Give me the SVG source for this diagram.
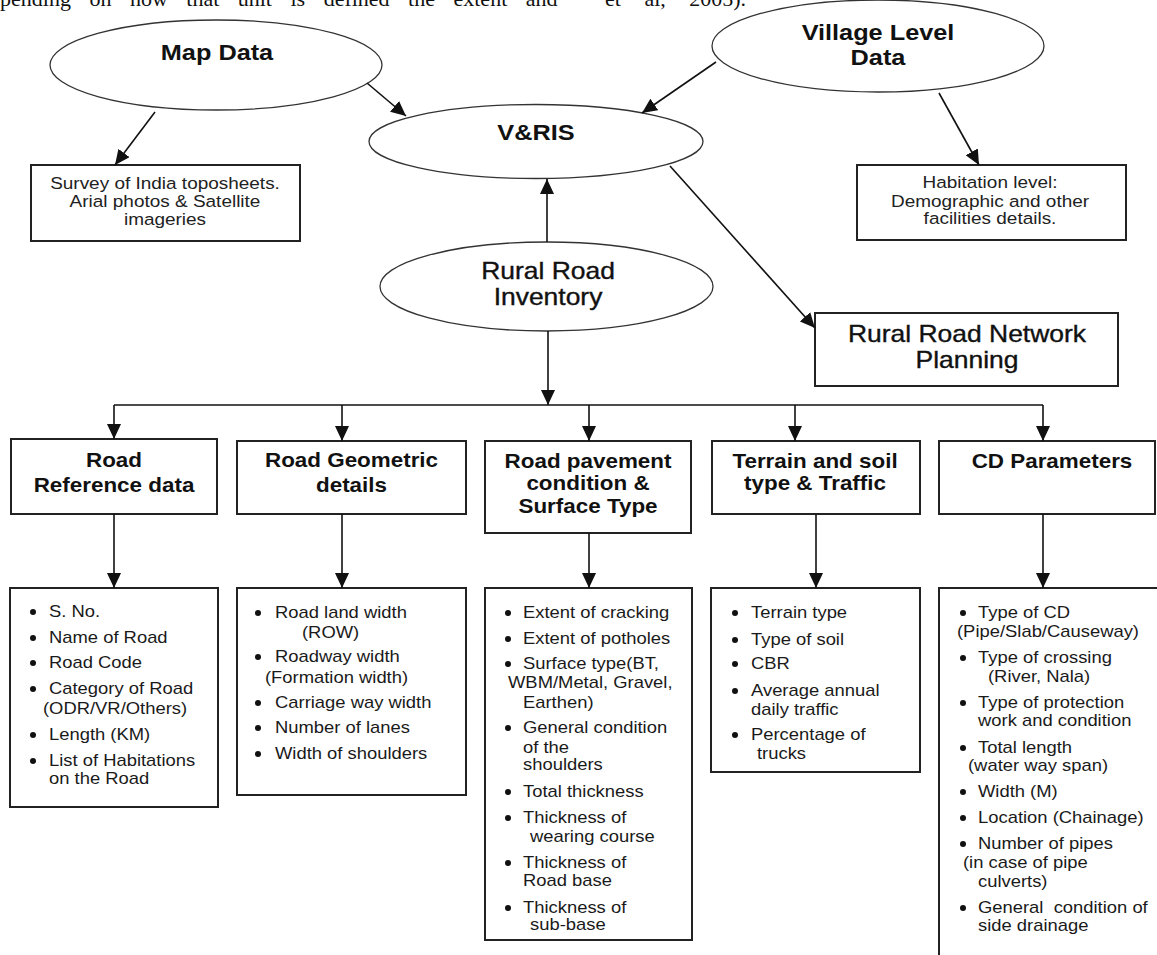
<svg xmlns="http://www.w3.org/2000/svg" width="1157" height="955" viewBox="0 0 1157 955">
<style>
  text { font-family: "Liberation Sans", Arial, sans-serif; fill: #111; }
  .body { font-family: "Liberation Serif", "Times New Roman", serif; font-size: 22px; word-spacing: 13px; }
  .title { font-size: 22px; font-weight: bold; text-anchor: middle; }
  .big { font-size: 23px; text-anchor: middle; stroke: #111; stroke-width: 0.35; }
  .head { font-size: 19.5px; font-weight: bold; text-anchor: middle; }
  .small { font-size: 16.5px; text-anchor: middle; fill: #222; }
  .item { font-size: 16px; fill: #1a1a1a; }
  .ell { fill: none; stroke: #333; stroke-width: 1.3; }
  .box { fill: none; stroke: #222; stroke-width: 2; }
  .conn path { fill: none; stroke: #111; stroke-width: 1.6; }
  .arr { marker-end: url(#ah); }
  .dot { fill: #111; }
</style>
<defs>
  <marker id="ah" viewBox="0 0 15 14" refX="15" refY="7" markerWidth="15" markerHeight="14" markerUnits="userSpaceOnUse" orient="auto">
    <path d="M0,0 L15,7 L0,14 z" fill="#111"/>
  </marker>
</defs>
<rect x="0" y="0" width="1157" height="955" fill="#fff"/>

<g id="page-text">
  <text class="body" x="0" y="6">pending on how that unit is defined the extent and</text>
  <text class="body" x="605" y="6" style="word-spacing:18px">et al, 2005).</text>
</g>

<g id="map-data">
  <ellipse class="ell" cx="216" cy="65" rx="166" ry="45"/>
  <text class="title" transform="translate(217,60) scale(1.15,1)">Map Data</text>
</g>

<g id="vris">
  <ellipse class="ell" cx="536" cy="141.5" rx="167" ry="37"/>
  <text class="title" transform="translate(536,140) scale(1.15,1)">V&amp;RIS</text>
</g>

<g id="village-data">
  <ellipse class="ell" cx="878" cy="46" rx="166" ry="46"/>
  <text class="title" transform="translate(878,40) scale(1.15,1)">Village Level</text>
  <text class="title" transform="translate(878,65) scale(1.15,1)">Data</text>
</g>

<g id="survey">
  <rect class="box" x="31" y="165" width="269" height="76"/>
  <text class="small" transform="translate(165,189) scale(1.15,1)">Survey of India toposheets.</text>
  <text class="small" transform="translate(165,207) scale(1.15,1)">Arial photos &amp; Satellite</text>
  <text class="small" transform="translate(165,225) scale(1.15,1)">imageries</text>
</g>

<g id="habitation">
  <rect class="box" x="857" y="165" width="269" height="75"/>
  <text class="small" transform="translate(990,188) scale(1.15,1)">Habitation level:</text>
  <text class="small" transform="translate(990,207) scale(1.15,1)">Demographic and other</text>
  <text class="small" transform="translate(990,224) scale(1.15,1)">facilities details.</text>
</g>

<g id="rural-road-inventory">
  <ellipse class="ell" cx="546.5" cy="286.5" rx="166.5" ry="44.5"/>
  <text class="big" transform="translate(548,279) scale(1.15,1)">Rural Road</text>
  <text class="big" transform="translate(548,305) scale(1.15,1)">Inventory</text>
</g>

<g id="network-planning">
  <rect class="box" x="815" y="313" width="303" height="73"/>
  <text class="big" transform="translate(967,342) scale(1.15,1)">Rural Road Network</text>
  <text class="big" transform="translate(967,368) scale(1.15,1)">Planning</text>
</g>

<g id="h-reference">
  <rect class="box" x="11" y="439" width="206" height="75"/>
  <text class="head" transform="translate(114,467) scale(1.15,1)">Road</text>
  <text class="head" transform="translate(114,492) scale(1.15,1)">Reference data</text>
</g>
<g id="h-geometric">
  <rect class="box" x="237" y="441" width="229" height="73"/>
  <text class="head" transform="translate(351.5,467) scale(1.15,1)">Road Geometric</text>
  <text class="head" transform="translate(351.5,492) scale(1.15,1)">details</text>
</g>
<g id="h-pavement">
  <rect class="box" x="485" y="441" width="206" height="92"/>
  <text class="head" transform="translate(588,468) scale(1.15,1)">Road pavement</text>
  <text class="head" transform="translate(588,490) scale(1.15,1)">condition &amp;</text>
  <text class="head" transform="translate(588,513) scale(1.15,1)">Surface Type</text>
</g>
<g id="h-terrain">
  <rect class="box" x="712" y="441" width="208" height="73"/>
  <text class="head" transform="translate(815,468) scale(1.15,1)">Terrain and soil</text>
  <text class="head" transform="translate(815,490) scale(1.15,1)">type &amp; Traffic</text>
</g>
<g id="h-cd">
  <rect class="box" x="939" y="441" width="216" height="73"/>
  <text class="head" transform="translate(1052,468) scale(1.15,1)">CD Parameters</text>
</g>

<g id="l-reference">
  <rect class="box" x="10" y="588" width="208" height="219"/>
  <circle class="dot" cx="33" cy="612" r="3"/><text class="item" transform="translate(49,617) scale(1.15,1)">S. No.</text>
  <circle class="dot" cx="33" cy="638" r="3"/><text class="item" transform="translate(49,643) scale(1.15,1)">Name of Road</text>
  <circle class="dot" cx="33" cy="663" r="3"/><text class="item" transform="translate(49,668) scale(1.15,1)">Road Code</text>
  <circle class="dot" cx="33" cy="689" r="3"/><text class="item" transform="translate(49,694) scale(1.15,1)">Category of Road</text>
  <text class="item" transform="translate(43,714) scale(1.15,1)">(ODR/VR/Others)</text>
  <circle class="dot" cx="33" cy="735" r="3"/><text class="item" transform="translate(49,740) scale(1.15,1)">Length (KM)</text>
  <circle class="dot" cx="33" cy="761" r="3"/><text class="item" transform="translate(49,766) scale(1.15,1)">List of Habitations</text>
  <text class="item" transform="translate(49,784) scale(1.15,1)">on the Road</text>
</g>

<g id="l-geometric">
  <rect class="box" x="237" y="588" width="229" height="207"/>
  <circle class="dot" cx="258" cy="613" r="3"/><text class="item" transform="translate(275,618) scale(1.15,1)">Road land width</text>
  <text class="item" transform="translate(302,638) scale(1.15,1)">(ROW)</text>
  <circle class="dot" cx="258" cy="657" r="3"/><text class="item" transform="translate(275,662) scale(1.15,1)">Roadway width</text>
  <text class="item" transform="translate(265,683) scale(1.15,1)">(Formation width)</text>
  <circle class="dot" cx="258" cy="703" r="3"/><text class="item" transform="translate(275,708) scale(1.15,1)">Carriage way width</text>
  <circle class="dot" cx="258" cy="728" r="3"/><text class="item" transform="translate(275,733) scale(1.15,1)">Number of lanes</text>
  <circle class="dot" cx="258" cy="754" r="3"/><text class="item" transform="translate(275,759) scale(1.15,1)">Width of shoulders</text>
</g>

<g id="l-pavement">
  <rect class="box" x="485" y="588" width="207" height="352"/>
  <circle class="dot" cx="508" cy="613" r="3"/><text class="item" transform="translate(523,618) scale(1.15,1)">Extent of cracking</text>
  <circle class="dot" cx="508" cy="639" r="3"/><text class="item" transform="translate(523,644) scale(1.15,1)">Extent of potholes</text>
  <circle class="dot" cx="508" cy="664" r="3"/><text class="item" transform="translate(523,669) scale(1.15,1)">Surface type(BT,</text>
  <text class="item" transform="translate(508,688) scale(1.15,1)">WBM/Metal, Gravel,</text>
  <text class="item" transform="translate(523,708) scale(1.15,1)">Earthen)</text>
  <circle class="dot" cx="508" cy="728" r="3"/><text class="item" transform="translate(523,733) scale(1.15,1)">General condition</text>
  <text class="item" transform="translate(523,753) scale(1.15,1)">of the</text>
  <text class="item" transform="translate(523,770) scale(1.15,1)">shoulders</text>
  <circle class="dot" cx="508" cy="792" r="3"/><text class="item" transform="translate(523,797) scale(1.15,1)">Total thickness</text>
  <circle class="dot" cx="508" cy="818" r="3"/><text class="item" transform="translate(523,823) scale(1.15,1)">Thickness of</text>
  <text class="item" transform="translate(530,842) scale(1.15,1)">wearing course</text>
  <circle class="dot" cx="508" cy="863" r="3"/><text class="item" transform="translate(523,868) scale(1.15,1)">Thickness of</text>
  <text class="item" transform="translate(523,886) scale(1.15,1)">Road base</text>
  <circle class="dot" cx="508" cy="908" r="3"/><text class="item" transform="translate(523,913) scale(1.15,1)">Thickness of</text>
  <text class="item" transform="translate(530,930) scale(1.15,1)">sub-base</text>
</g>

<g id="l-terrain">
  <rect class="box" x="711" y="588" width="209" height="184"/>
  <circle class="dot" cx="735" cy="613" r="3"/><text class="item" transform="translate(751,618) scale(1.15,1)">Terrain type</text>
  <circle class="dot" cx="735" cy="640" r="3"/><text class="item" transform="translate(751,645) scale(1.15,1)">Type of soil</text>
  <circle class="dot" cx="735" cy="664" r="3"/><text class="item" transform="translate(751,669) scale(1.15,1)">CBR</text>
  <circle class="dot" cx="735" cy="691" r="3"/><text class="item" transform="translate(751,696) scale(1.15,1)">Average annual</text>
  <text class="item" transform="translate(751,715) scale(1.15,1)">daily traffic</text>
  <circle class="dot" cx="735" cy="735" r="3"/><text class="item" transform="translate(751,740) scale(1.15,1)">Percentage of</text>
  <text class="item" transform="translate(757,759) scale(1.15,1)">trucks</text>
</g>

<g id="l-cd">
  <rect class="box" x="939" y="588" width="260" height="420"/>
  <circle class="dot" cx="963" cy="613" r="3"/><text class="item" transform="translate(978,618) scale(1.15,1)">Type of CD</text>
  <text class="item" transform="translate(957,637) scale(1.15,1)">(Pipe/Slab/Causeway)</text>
  <circle class="dot" cx="963" cy="658" r="3"/><text class="item" transform="translate(978,663) scale(1.15,1)">Type of crossing</text>
  <text class="item" transform="translate(988,682) scale(1.15,1)">(River, Nala)</text>
  <circle class="dot" cx="963" cy="703" r="3"/><text class="item" transform="translate(978,708) scale(1.15,1)">Type of protection</text>
  <text class="item" transform="translate(978,726) scale(1.15,1)">work and condition</text>
  <circle class="dot" cx="963" cy="748" r="3"/><text class="item" transform="translate(978,753) scale(1.15,1)">Total length</text>
  <text class="item" transform="translate(968,771) scale(1.15,1)">(water way span)</text>
  <circle class="dot" cx="963" cy="792" r="3"/><text class="item" transform="translate(978,797) scale(1.15,1)">Width (M)</text>
  <circle class="dot" cx="963" cy="818" r="3"/><text class="item" transform="translate(978,823) scale(1.15,1)">Location (Chainage)</text>
  <circle class="dot" cx="963" cy="844" r="3"/><text class="item" transform="translate(978,849) scale(1.15,1)">Number of pipes</text>
  <text class="item" transform="translate(963,868) scale(1.15,1)">(in case of pipe</text>
  <text class="item" transform="translate(978,887) scale(1.15,1)">culverts)</text>
  <circle class="dot" cx="963" cy="908" r="3"/><text class="item" xml:space="preserve" transform="translate(978,913) scale(1.15,1)">General  condition of</text>
  <text class="item" transform="translate(978,931) scale(1.15,1)">side drainage</text>
</g>

<g id="connectors" class="conn">
  <path class="arr" d="M155,112 L115,165"/>
  <path class="arr" d="M367,83 L406,116"/>
  <path class="arr" d="M716,62 L642,113"/>
  <path class="arr" d="M939,93 L979,165"/>
  <path class="arr" d="M670,166 L815,328"/>
  <path class="arr" d="M547,242 L547,179"/>
  <path class="arr" d="M548,331 L548,405"/>
  <path d="M114,405 H1043"/>
  <path class="arr" d="M114,405 V439"/>
  <path class="arr" d="M342,405 V441"/>
  <path class="arr" d="M589,405 V441"/>
  <path class="arr" d="M795,405 V441"/>
  <path class="arr" d="M1043,405 V441"/>
  <path class="arr" d="M114,514 V588"/>
  <path class="arr" d="M342,514 V588"/>
  <path class="arr" d="M589,533 V588"/>
  <path class="arr" d="M816,514 V588"/>
  <path class="arr" d="M1043,514 V588"/>
</g>
</svg>
